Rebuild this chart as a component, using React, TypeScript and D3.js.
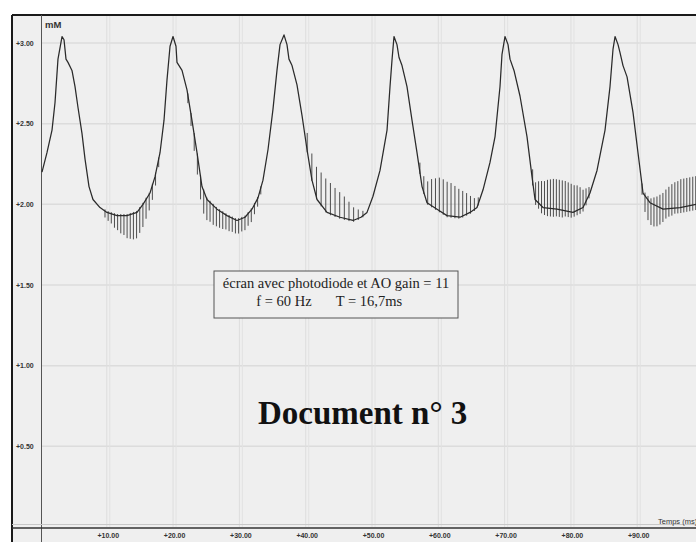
import React from 'react';
import * as d3 from 'd3';

// Signal curve (time in ms, voltage)
const timeMs = [
  0, 0.75, 1.51, 1.96, 2.41,
  3.02, 3.32, 3.62, 3.92, 4.52,
  4.98, 5.43, 6.03, 6.49, 7.09,
  7.69, 8.75, 9.8, 11.31, 12.82,
  14.33, 15.23, 16.29, 17.04, 17.8,
  18.4, 18.85, 19.31, 19.76, 20.21,
  20.36, 21.12, 21.87, 22.62, 23.38,
  24.13, 24.89, 26.4, 27.9, 29.41,
  30.62, 31.67, 32.58, 33.33, 34.09,
  34.84, 35.44, 35.9, 36.5, 36.95,
  37.25, 37.71, 38.46, 39.22, 39.97,
  40.72, 41.48, 42.99, 44.95, 46.91,
  48.11, 49.02, 49.92, 50.98, 52.04,
  52.49, 52.8, 53.09, 53.54, 53.85,
  54.3, 55.05, 55.81, 56.56, 57.32,
  58.07, 59.58, 61.09, 63.05, 64.56,
  65.61, 66.52, 67.57, 68.33, 69.08,
  69.38, 69.83, 70.29, 70.59, 71.19,
  72.1, 73.15, 73.91, 74.36, 75.57,
  77.68, 80.09, 81.6, 82.65, 83.71,
  84.92, 85.67, 86.12, 86.43, 86.88,
  87.18, 87.63, 88.24, 89.14, 89.89,
  90.65, 91.7, 93.67, 96.23, 98.64,
];
const signalV = [
  2.2, 2.32, 2.46, 2.63, 2.9,
  3.04, 3.02, 2.9, 2.88, 2.83,
  2.73, 2.6, 2.44, 2.28, 2.11,
  2.03, 1.98, 1.95, 1.93, 1.93,
  1.95, 2.0, 2.07, 2.17, 2.32,
  2.52, 2.77, 2.98, 3.04, 2.98,
  2.88, 2.83, 2.71, 2.52, 2.32,
  2.11, 2.03, 1.97, 1.93, 1.9,
  1.92, 1.97, 2.04, 2.15, 2.34,
  2.59, 2.83, 2.99, 3.05, 2.99,
  2.9, 2.86, 2.74, 2.55, 2.34,
  2.15, 2.03, 1.95, 1.92, 1.9,
  1.92, 1.95, 2.05, 2.21, 2.46,
  2.73, 2.9, 3.04, 2.99, 2.91,
  2.86, 2.73, 2.52, 2.32, 2.11,
  2.01, 1.97, 1.93, 1.92, 1.95,
  1.98, 2.09, 2.26, 2.42, 2.73,
  2.93, 3.04, 2.99, 2.9, 2.83,
  2.67, 2.42, 2.17, 2.03, 1.98,
  1.97, 1.95, 1.98, 2.07, 2.21,
  2.46, 2.73, 2.96, 3.04, 2.99,
  2.94, 2.86, 2.79, 2.57, 2.32,
  2.07, 2.01, 1.97, 1.98, 2.0,
];

// High-frequency ripple bursts (hatching)
const rippleStart = [9.5, 22.0, 40.0, 57.0, 74.0, 90.5];
const rippleEnd = [17.6, 33.0, 48.4, 65.8, 82.5, 98.6];
const rippleUp = [
  [0.01, 0.01, 0.01, 0.01, 0.01, 0.01, 0.01, 0.01, 0.01, 0.01, 0.01, 0.01, 0.01, 0.01, 0.01, 0.01, 0.01, 0.01],
  [0.01, 0.01, 0.01, 0.01, 0.01, 0.01, 0.01, 0.01, 0.01, 0.01, 0.01, 0.01, 0.01, 0.01, 0.01, 0.01, 0.01, 0.01, 0.01, 0.01, 0.01, 0.01, 0.01, 0.01],
  [0.11, 0.16, 0.19, 0.2, 0.2, 0.19, 0.17, 0.155, 0.135, 0.11, 0.08, 0.055, 0.03],
  [0.06, 0.1, 0.135, 0.165, 0.185, 0.205, 0.21, 0.21, 0.205, 0.19, 0.175, 0.155, 0.13, 0.1, 0.07, 0.04],
  [0.075, 0.11, 0.135, 0.155, 0.165, 0.175, 0.18, 0.185, 0.185, 0.185, 0.185, 0.185, 0.18, 0.175, 0.165, 0.155, 0.135, 0.11, 0.08, 0.05],
  [0.01, 0.02, 0.025, 0.03, 0.045, 0.06, 0.08, 0.1, 0.12, 0.135, 0.15, 0.16, 0.165, 0.175, 0.175, 0.175, 0.175, 0.175, 0.175],
];
const rippleDown = [
  [0.04, 0.05, 0.06, 0.08, 0.09, 0.11, 0.12, 0.14, 0.15, 0.16, 0.16, 0.15, 0.14, 0.12, 0.1, 0.09, 0.07, 0.05],
  [0.05, 0.07, 0.1, 0.12, 0.14, 0.14, 0.13, 0.12, 0.12, 0.11, 0.105, 0.1, 0.09, 0.09, 0.085, 0.085, 0.085, 0.08, 0.08, 0.075, 0.075, 0.06, 0.05, 0.04],
  [0.01, 0.01, 0.01, 0.01, 0.01, 0.01, 0.01, 0.01, 0.01, 0.01, 0.01, 0.01, 0.01],
  [0.01, 0.01, 0.01, 0.01, 0.01, 0.01, 0.01, 0.01, 0.01, 0.01, 0.01, 0.01, 0.01, 0.01, 0.01, 0.01],
  [0.025, 0.03, 0.035, 0.045, 0.045, 0.05, 0.05, 0.05, 0.045, 0.045, 0.045, 0.035, 0.035, 0.035, 0.03, 0.03, 0.03, 0.025, 0.025, 0.02],
  [0.06, 0.1, 0.125, 0.135, 0.135, 0.125, 0.105, 0.08, 0.06, 0.05, 0.045, 0.035, 0.035, 0.035, 0.035, 0.035, 0.035, 0.035, 0.035],
];

const xTicks = [10, 20, 30, 40, 50, 60, 70, 80, 90];
const yTicks = [0.5, 1.0, 1.5, 2.0, 2.5, 3.0];

const xAxisTitle = 'Temps (ms)';
const yAxisTitle = 'mM';
const noteLine1 = 'écran avec photodiode et AO gain = 11';
const noteLine2a = 'f = 60 Hz';
const noteLine2b = 'T = 16,7ms';
const docTitle = 'Document n° 3';

const W = 696;
const H = 542;

export default function App() {
  const x = d3.scaleLinear().domain([0, 98.64]).range([42, 696]);
  const y = d3.scaleLinear().domain([0, 3]).range([527, 43]);
  const fmt = (d: number) => '+' + d.toFixed(2);

  const pts: [number, number][] = timeMs.map((t, i) => [t, signalV[i]]);
  const line = d3
    .line<[number, number]>()
    .x((d) => x(d[0]))
    .y((d) => y(d[1]));

  const valueAt = (t: number) => {
    const i = d3.bisector((d: [number, number]) => d[0]).right(pts, t);
    if (i <= 0) return pts[0][1];
    if (i >= pts.length) return pts[pts.length - 1][1];
    const a = pts[i - 1];
    const b = pts[i];
    const f = (t - a[0]) / (b[0] - a[0]);
    return a[1] + f * (b[1] - a[1]);
  };

  const spikes: { t: number; lo: number; hi: number }[] = [];
  rippleStart.forEach((s, g) => {
    const e = rippleEnd[g];
    const n = rippleUp[g].length;
    for (let i = 0; i < n; i++) {
      const t = s + ((e - s) * i) / (n - 1);
      const base = valueAt(t);
      spikes.push({ t, lo: base - rippleDown[g][i], hi: base + rippleUp[g][i] });
    }
  });

  const tickFont = "'Liberation Sans', Arial, sans-serif";
  const serif = "'Liberation Serif', 'Times New Roman', serif";

  return (
    <svg
      width={W}
      height={H}
      style={{ position: 'absolute', left: 0, top: 0, display: 'block' }}
    >
      <rect x={0} y={0} width={W} height={H} fill="#ffffff" />
      <rect x={12} y={15} width={W - 12} height={H - 15} fill="#efefef" />

      {/* grid */}
      {yTicks.map((v) => (
        <line key={'gy' + v} x1={42} x2={W} y1={y(v)} y2={y(v)} stroke="#dcdcdc" strokeWidth={1.5} />
      ))}
      {xTicks.map((t) => (
        <g key={'gx' + t}>
          <line x1={x(t) - 1.5} x2={x(t) - 1.5} y1={16} y2={527} stroke="#dddddd" strokeWidth={1} />
          <line x1={x(t) + 1.5} x2={x(t) + 1.5} y1={16} y2={527} stroke="#e2e2e2" strokeWidth={1} />
        </g>
      ))}

      {/* frame */}
      <line x1={12} x2={W} y1={15} y2={15} stroke="#1a1a1a" strokeWidth={2} />
      <line x1={12} x2={12} y1={15} y2={H} stroke="#1a1a1a" strokeWidth={2} />
      <line x1={41.5} x2={41.5} y1={15} y2={H} stroke="#555" strokeWidth={1} />
      <line x1={12} x2={W} y1={524.5} y2={524.5} stroke="#c8c8c8" strokeWidth={1} />
      <line x1={12} x2={W} y1={528} y2={528} stroke="#333" strokeWidth={1.5} />

      {/* y ticks */}
      {yTicks.map((v) => (
        <text
          key={'ty' + v}
          x={16}
          y={y(v) + 2.5}
          fontFamily={tickFont}
          fontSize={7}
          fontWeight="bold"
          fill="#333"
        >
          {fmt(v)}
        </text>
      ))}
      {/* x ticks */}
      {xTicks.map((t) => (
        <text
          key={'tx' + t}
          x={x(t)}
          y={538}
          textAnchor="middle"
          fontFamily={tickFont}
          fontSize={7}
          fontWeight="bold"
          fill="#333"
        >
          {fmt(t)}
        </text>
      ))}
      <text x={658} y={524} fontFamily={tickFont} fontSize={7.5} fill="#333">
        {xAxisTitle}
      </text>
      <text x={45} y={28} fontFamily={tickFont} fontSize={9.5} fontWeight="bold" fill="#333">
        {yAxisTitle}
      </text>

      {/* signal */}
      <g stroke="#3a3a3a" strokeWidth={0.9}>
        {spikes.map((s, i) => (
          <line key={'s' + i} x1={x(s.t)} x2={x(s.t)} y1={y(s.lo)} y2={y(s.hi)} />
        ))}
      </g>
      <path d={line(pts) || ''} fill="none" stroke="#2a2a2a" strokeWidth={1.25} strokeLinejoin="round" />

      {/* note box */}
      <rect x={214} y={271} width={244} height={47} fill="#efefef" stroke="#555" strokeWidth={1} />
      <text x={336} y={288} textAnchor="middle" fontFamily={serif} fontSize={14.5} fill="#222">
        {noteLine1}
      </text>
      <text x={284} y={306} textAnchor="middle" fontFamily={serif} fontSize={14.5} fill="#222">
        {noteLine2a}
      </text>
      <text x={369} y={306} textAnchor="middle" fontFamily={serif} fontSize={14.5} fill="#222">
        {noteLine2b}
      </text>

      <text x={258} y={424} fontFamily={serif} fontSize={33} fontWeight="bold" fill="#111">
        {docTitle}
      </text>
    </svg>
  );
}
